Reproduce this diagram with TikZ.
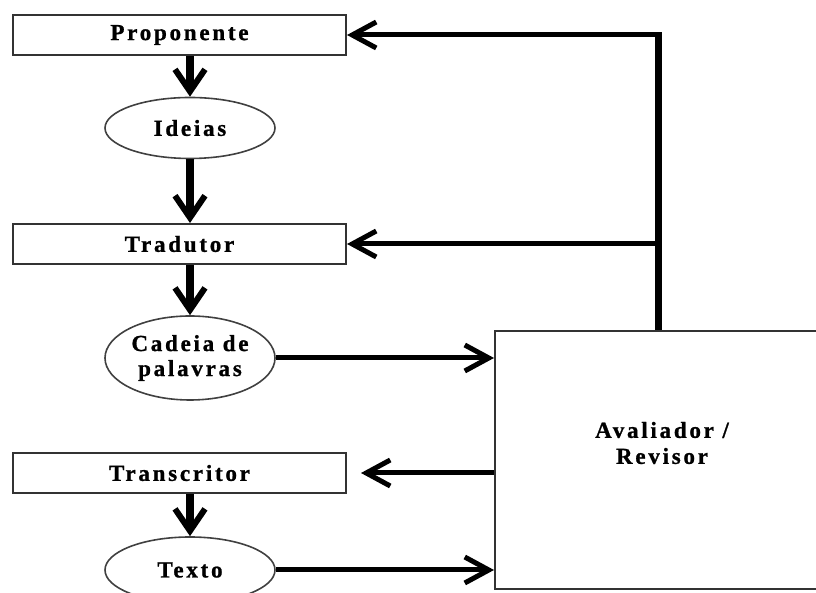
\documentclass[tikz,border=0pt]{standalone}
\usepackage{fontspec}
\setmainfont{Liberation Serif}[LetterSpace=12, FakeBold=1]
\usetikzlibrary{arrows.meta,shapes.geometric}
\begin{document}
\begin{tikzpicture}[x=1pt,y=1pt,
  every node/.style={font=\fontsize{23}{25}\selectfont\bfseries, align=center, inner sep=0pt},
  agent/.style={draw=black!80, line width=2pt, rectangle, minimum width=333pt, minimum height=40pt},
  product/.style={draw=black!75, line width=1.6pt, ellipse, minimum width=170pt},
  flow/.style={line width=5pt, -{Straight Barb[length=24pt, width=26pt, line width=5pt]}},
  down/.style={line width=8pt, -{Straight Barb[length=22pt, width=30pt, line width=6pt]}}]
  \useasboundingbox (0,0) rectangle (816,593);

  % agents and their products
  \node[agent]   (prop)   at (179.5,558) {Proponente};
  \node[product, minimum height=61pt] (ideias) at (190,465) {Ideias};
  \node[agent]   (trad)   at (179.5,349) {Tradutor};
  \node[product, minimum height=84pt] (cadeia) at (190,235) {Cadeia de\\palavras};
  \node[agent]   (trans)  at (179.5,120) {Transcritor};
  \node[product, minimum height=66pt] (texto)  at (190,23)  {Texto};

  % evaluator box, running off the right edge
  \node[draw=black!80, line width=2pt, rectangle, minimum width=334pt, minimum height=258pt,
        label={[yshift=17pt, font=\fontsize{23}{26}\selectfont\bfseries, align=center]center:Avaliador /\\Revisor}]
        (aval) at (662,133) {};

  % main sequence
  \draw[down] (prop.south -| ideias.north) -- (ideias.north);
  \draw[down] (ideias.south) -- (trad.north -| ideias.south);
  \draw[down] (trad.south -| cadeia.north) -- (cadeia.north);
  \draw[down] (trans.south -| texto.north) -- (texto.north);

  % products sent for evaluation
  \draw[flow] (cadeia.east) -- (cadeia.east -| aval.west);
  \draw[flow] (texto.east) -- (texto.east -| aval.west);
  \draw[flow, shorten >=14pt] (aval.west |- trans.east) -- (trans.east);

  % feedback to proponent and translator
  \coordinate (fb) at (658,558);
  \draw[line width=7pt] (aval.north -| fb) -- ([yshift=2.5pt]fb);
  \draw[flow] ([xshift=3.5pt]fb) -- (prop.east);
  \draw[flow] (fb |- trad.east) -- (trad.east);
\end{tikzpicture}
\end{document}
